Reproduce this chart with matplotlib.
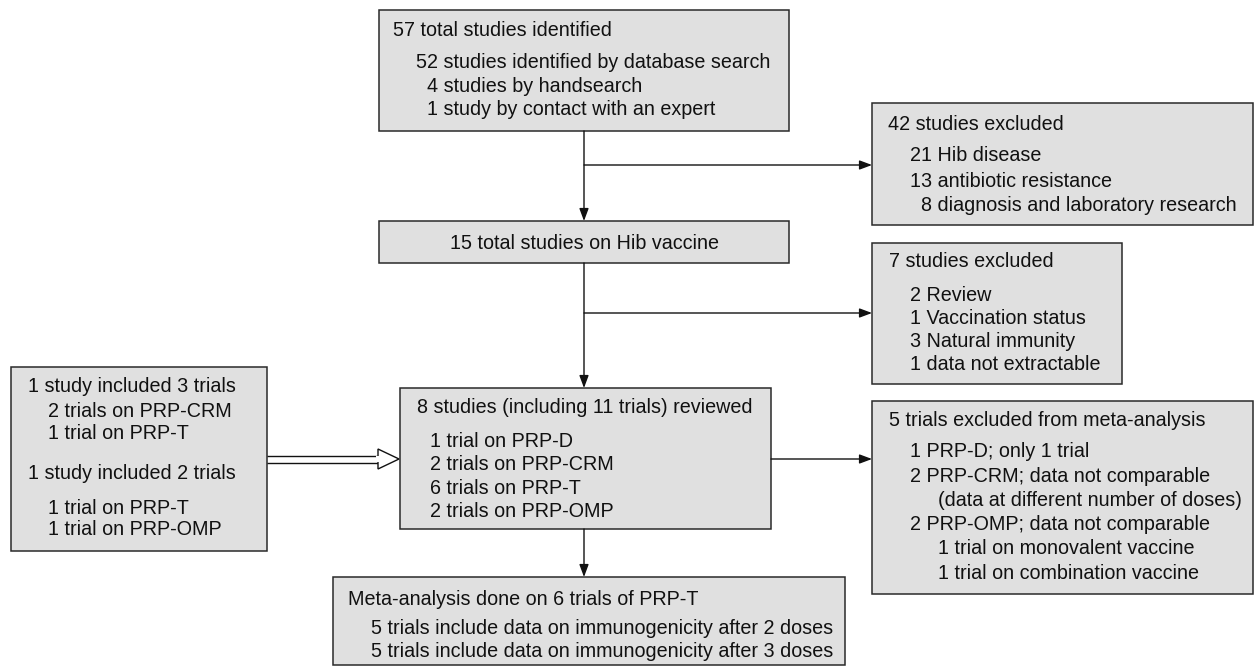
import matplotlib
matplotlib.use("Agg")
import matplotlib.pyplot as plt
from matplotlib.patches import Rectangle, Polygon, FancyArrowPatch

plt.rcParams['font.family'] = ['Liberation Sans', 'DejaVu Sans']

# ---- box texts ----
box_identified_title = "57 total studies identified"
box_identified_items = ["52 studies identified by database search",
                        "4 studies by handsearch",
                        "1 study by contact with an expert"]
box_hib_title = "15 total studies on Hib vaccine"
box_excl1_title = "42 studies excluded"
box_excl1_items = ["21 Hib disease", "13 antibiotic resistance",
                   "8 diagnosis and laboratory research"]
box_excl2_title = "7 studies excluded"
box_excl2_items = ["2 Review", "1 Vaccination status", "3 Natural immunity",
                   "1 data not extractable"]
box_left_lines = ["1 study included 3 trials", "2 trials on PRP-CRM",
                  "1 trial on PRP-T", "1 study included 2 trials",
                  "1 trial on PRP-T", "1 trial on PRP-OMP"]
box_reviewed_title = "8 studies (including 11 trials) reviewed"
box_reviewed_items = ["1 trial on PRP-D", "2 trials on PRP-CRM",
                      "6 trials on PRP-T", "2 trials on PRP-OMP"]
box_excl3_title = "5 trials excluded from meta-analysis"
box_excl3_items = ["1 PRP-D; only 1 trial", "2 PRP-CRM; data not comparable",
                   "(data at different number of doses)",
                   "2 PRP-OMP; data not comparable",
                   "1 trial on monovalent vaccine",
                   "1 trial on combination vaccine"]
box_meta_title = "Meta-analysis done on 6 trials of PRP-T"
box_meta_items = ["5 trials include data on immunogenicity after 2 doses",
                  "5 trials include data on immunogenicity after 3 doses"]

W, H = 1254, 671
fig = plt.figure(figsize=(W / 100, H / 100), dpi=100)
ax = fig.add_axes([0, 0, 1, 1])
ax.set_xlim(0, W)
ax.set_ylim(H, 0)
ax.axis('off')

FILL = '#e0e0e0'
EDGE = '#2a2a2a'
FS = 14.25


def box(x0, y0, x1, y1):
    ax.add_patch(Rectangle((x0, y0), x1 - x0, y1 - y0, facecolor=FILL,
                           edgecolor=EDGE, linewidth=1.1, zorder=1))


def txt(x, y, s, ha='left'):
    ax.text(x, y, s, fontsize=FS, ha=ha, va='baseline', color='#111111',
            zorder=3)


def arrow(x0, y0, x1, y1):
    ax.add_patch(FancyArrowPatch((x0, y0), (x1, y1),
                                 arrowstyle='-|>,head_length=0.75,head_width=0.28',
                                 mutation_scale=10, shrinkA=0, shrinkB=0,
                                 color='#111111', linewidth=1.0, zorder=2))


def line(x0, y0, x1, y1):
    ax.plot([x0, x1], [y0, y1], color='#111111', linewidth=1.0, zorder=2,
            solid_capstyle='butt')


# Box 1
box(379, 10, 789, 131)
txt(393, 36, box_identified_title)
for s, x, y in zip(box_identified_items, [416, 427, 427], [68, 92, 115]):
    txt(x, y, s)

# Box 2
box(379, 221, 789, 263)
txt(584, 249, box_hib_title, ha='center')

# Excluded 42
box(872, 103, 1253, 225)
txt(888, 130, box_excl1_title)
for s, x, y in zip(box_excl1_items, [910, 910, 921], [161, 187, 211]):
    txt(x, y, s)

# Excluded 7
box(872, 243, 1122, 384)
txt(889, 267, box_excl2_title)
for s, y in zip(box_excl2_items, [301, 324, 347, 370]):
    txt(910, y, s)

# Left box
box(11, 367, 267, 551)
for s, x, y in zip(box_left_lines, [28, 48, 48, 28, 48, 48],
                   [392, 417, 439, 479, 514, 535]):
    txt(x, y, s)

# Reviewed box
box(400, 388, 771, 529)
txt(417, 413, box_reviewed_title)
for s, y in zip(box_reviewed_items, [447, 470, 494, 517]):
    txt(430, y, s)

# Excluded 5 trials
box(872, 401, 1253, 594)
txt(889, 426, box_excl3_title)
for s, x, y in zip(box_excl3_items, [910, 910, 938, 910, 938, 938],
                   [457, 482, 506, 530, 554, 579]):
    txt(x, y, s)

# Meta-analysis box
box(333, 577, 845, 665)
txt(348, 605, box_meta_title)
for s, y in zip(box_meta_items, [634, 657]):
    txt(371, y, s)

# Connectors
arrow(584, 131, 584, 221)
arrow(584, 165, 872, 165)
arrow(584, 263, 584, 388)
arrow(584, 313, 872, 313)
arrow(771, 459, 872, 459)
arrow(584, 529, 584, 577)

# Hollow double arrow from left box into reviewed box
line(267, 455.5, 379, 455.5)
line(267, 462.5, 379, 462.5)
ax.add_patch(Polygon([(378, 449), (399, 459), (378, 469)], closed=True,
                     facecolor='white', edgecolor='#111111', linewidth=1.0,
                     zorder=3))
ax.add_patch(Rectangle((376, 456.3), 4, 5.4, facecolor='white',
                       edgecolor='none', zorder=4))

fig.savefig('out.png', dpi=100)
